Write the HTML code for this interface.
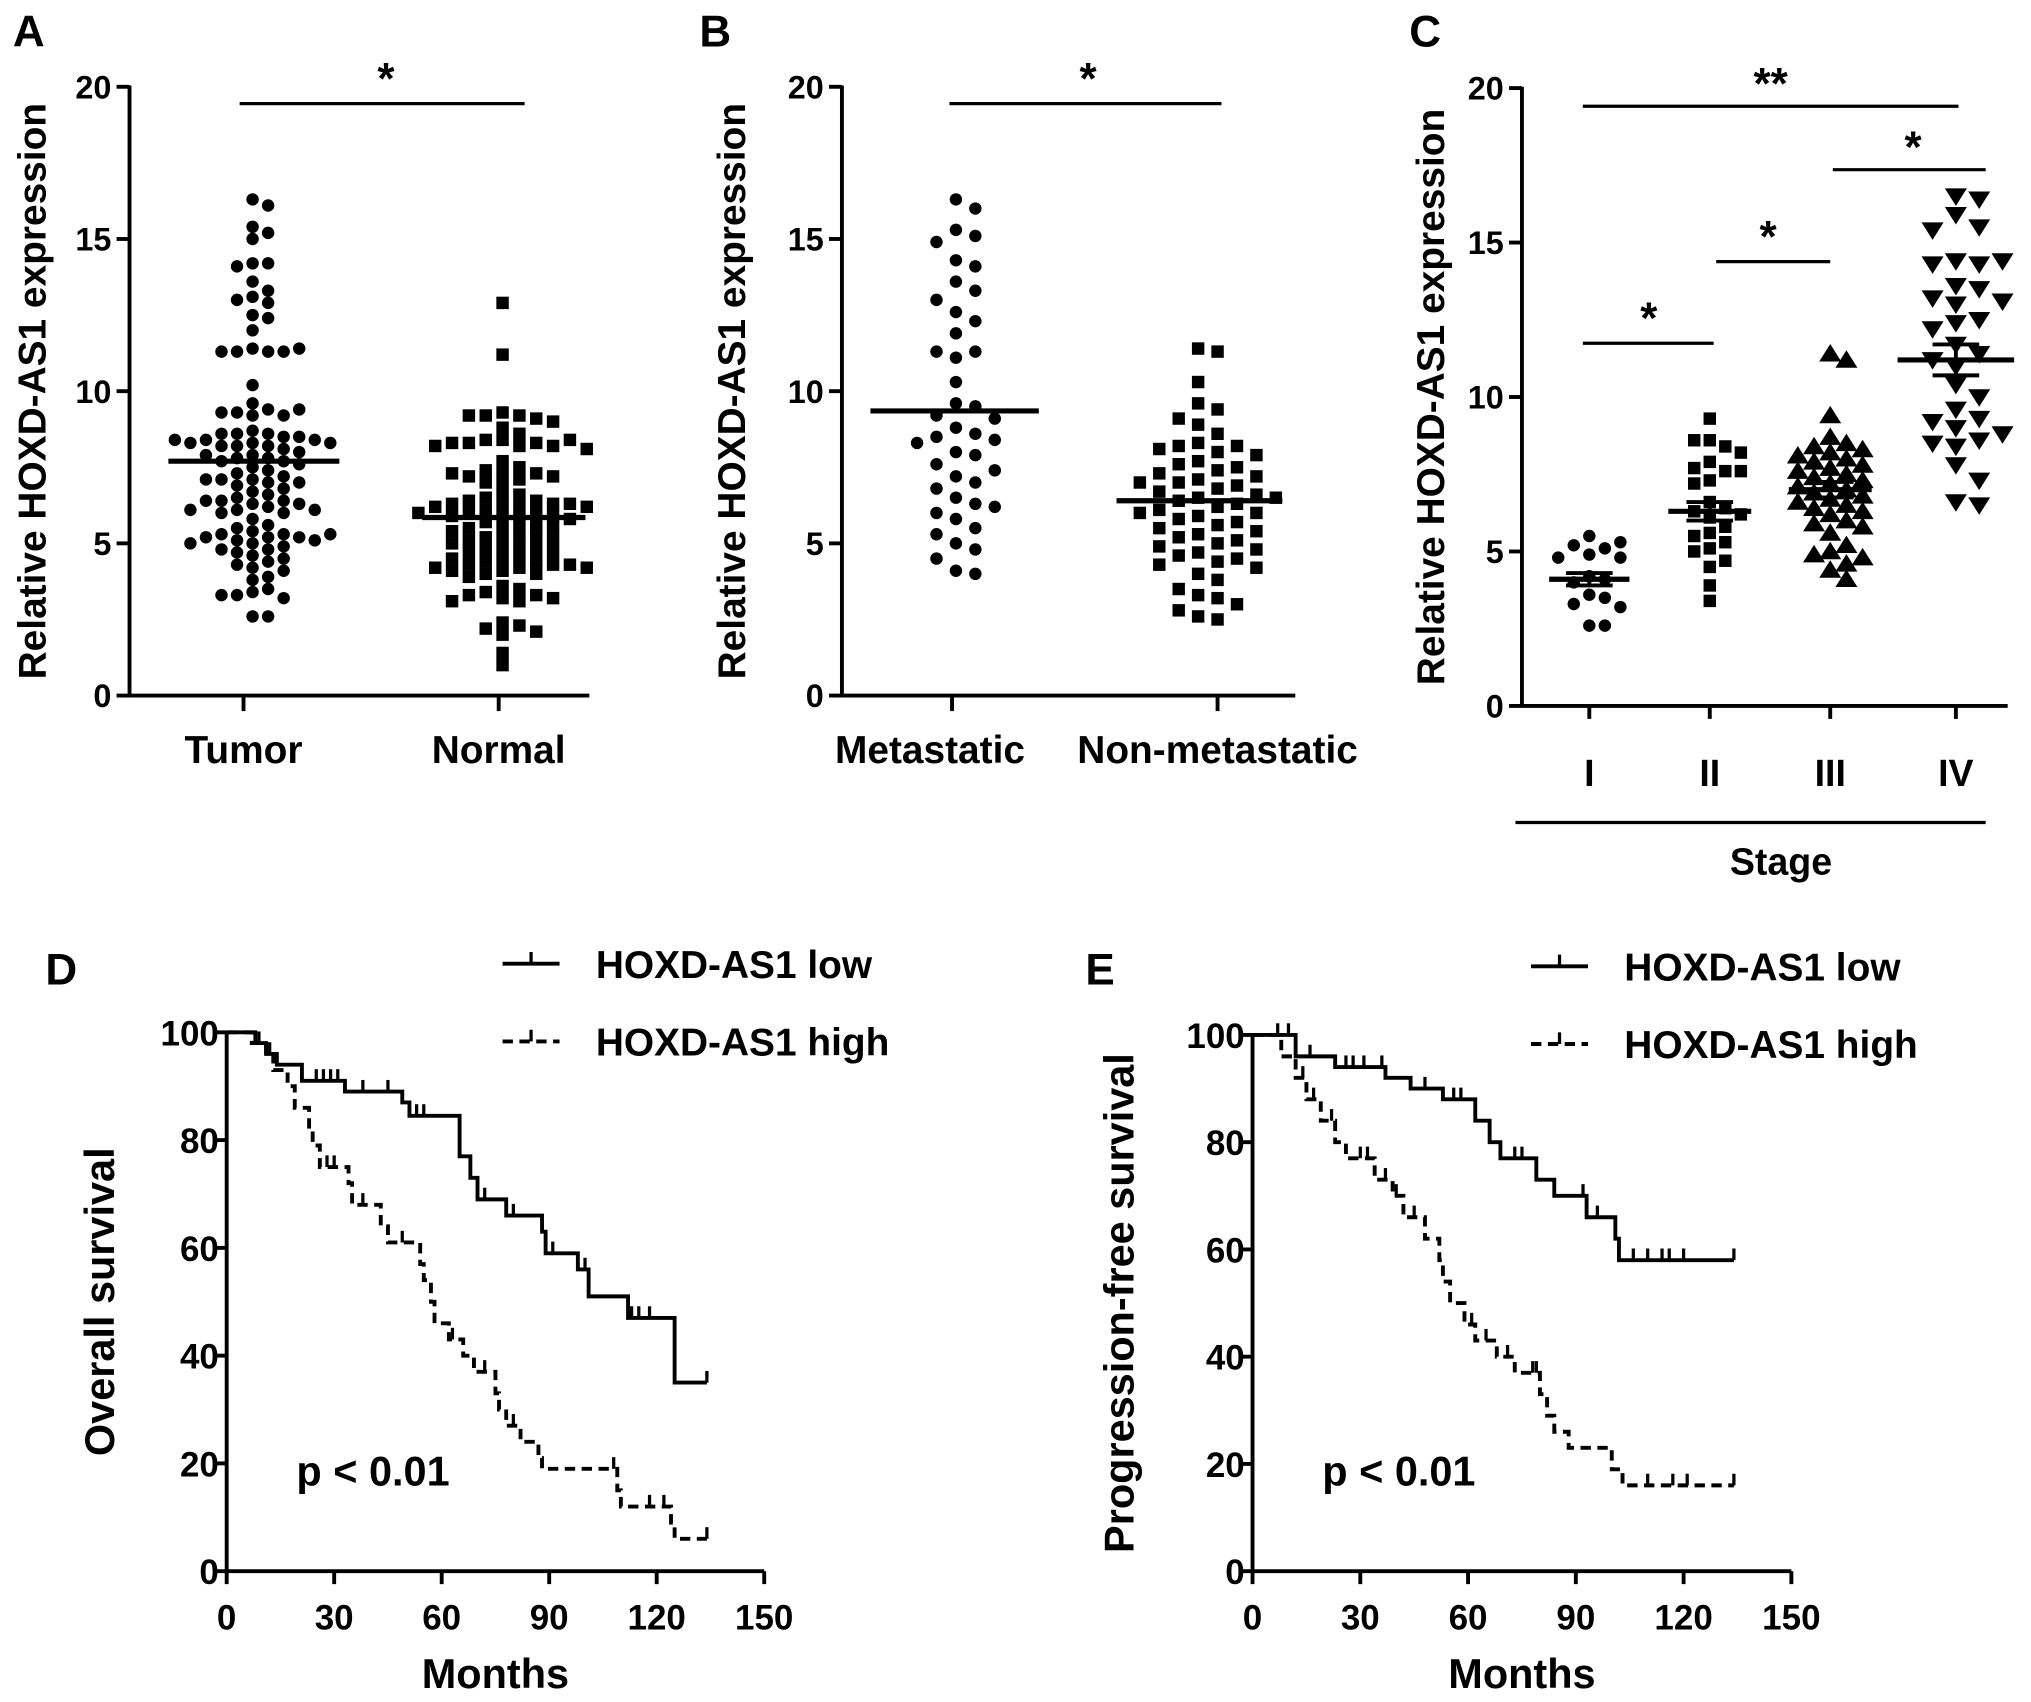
<!DOCTYPE html>
<html><head><meta charset="utf-8">
<style>
html,body{margin:0;padding:0;background:#fff;}
svg{display:block;}
text{font-family:"Liberation Sans",Arial,sans-serif;font-weight:bold;fill:#000;}
</style></head>
<body>
<svg id="fig" width="2031" height="1702" viewBox="0 0 1568 1314" preserveAspectRatio="none" xmlns="http://www.w3.org/2000/svg"></svg>
<script>
// ---------- DATA ----------
const tumorVals=[16.3,16.1,15.4,15.2,15.0,14.2,14.2,14.1,13.6,13.3,13.1,13.0,12.9,12.5,12.4,12.0,11.4,11.3,11.3,11.3,11.3,11.4,10.2,9.6,9.4,9.3,9.2,9.2,9.3,9.4,8.7,8.6,8.6,8.5,8.6,8.5,8.4,8.4,8.3,8.3,8.2,8.2,8.3,8.4,8.2,8.1,8.0,7.9,7.9,7.8,7.8,7.7,7.7,7.6,7.5,7.4,7.3,7.2,7.1,7.1,7.0,7.0,7.1,6.9,6.8,6.7,6.6,6.5,6.4,6.4,6.3,6.3,6.4,6.2,6.1,6.1,6.0,6.0,6.1,5.8,5.6,5.5,5.4,5.3,5.3,5.2,5.2,5.2,5.1,5.1,5.0,5.0,5.3,4.9,4.8,4.8,4.7,4.6,4.5,4.4,4.3,4.2,4.1,3.9,3.8,3.5,3.4,3.3,3.2,3.3,2.6,2.6];
const normalVals=[12.9,11.2,9.3,9.2,9.2,9.1,9.2,9.0,8.8,8.6,8.4,8.4,8.3,8.3,8.2,8.2,8.3,8.4,8.2,8.1,7.7,7.5,7.4,7.3,7.3,7.2,7.2,7.3,7.1,7.0,6.9,6.6,6.5,6.5,6.4,6.4,6.3,6.3,6.3,6.2,6.2,6.2,6.1,6.1,6.0,6.0,6.0,5.9,5.9,5.8,5.8,5.7,5.7,5.6,5.5,5.5,5.4,5.4,5.3,5.2,5.2,5.1,5.1,5.0,5.0,4.9,4.8,4.8,4.7,4.7,4.6,4.5,4.5,4.4,4.4,4.3,4.3,4.3,4.2,4.2,4.2,4.1,4.1,4.0,4.0,3.9,3.6,3.5,3.4,3.3,3.3,3.2,3.2,3.1,3.1,2.4,2.3,2.2,2.1,2.0,1.4,1.0];
const tumorMedian=7.7, normalMedian=5.85;
const metaVals=[16.3,16.0,15.3,15.1,14.9,14.3,14.1,13.6,13.3,13.0,12.6,12.3,11.9,11.3,11.1,11.3,10.3,9.6,9.5,9.2,9.1,8.8,8.6,8.5,8.4,8.3,8.0,7.9,7.6,7.4,7.2,7.0,6.8,6.5,6.3,6.2,6.0,5.8,5.5,5.3,5.0,4.8,4.5,4.1,4.0];
const nonMetaVals=[11.4,11.3,10.3,9.6,9.4,9.1,8.9,8.6,8.3,8.2,8.2,8.1,8.0,7.9,7.7,7.6,7.5,7.4,7.3,7.2,7.1,7.0,7.0,6.9,6.8,6.7,6.6,6.5,6.5,6.4,6.3,6.2,6.1,6.0,6.0,5.9,5.8,5.7,5.6,5.5,5.4,5.3,5.2,5.1,5.0,4.9,4.8,4.7,4.6,4.5,4.4,4.3,4.2,4.0,3.8,3.5,3.3,3.2,3.0,2.8,2.6,2.5];
const metaMedian=9.35, nonMetaMedian=6.4;
const stageLabels=["I","II","III","IV"];
const stage1=[5.5,5.1,5.2,5.3,4.9,4.8,4.8,4.2,4.1,4.0,3.6,3.5,3.3,3.2,2.6,2.6];
const stage2=[9.3,8.6,8.4,8.6,8.2,7.9,7.6,7.7,7.6,7.3,7.2,6.6,6.4,6.3,6.2,6.1,5.8,5.6,5.5,5.3,5.1,5.0,4.7,4.5,3.9,3.4];
const stage3=[11.4,11.2,9.4,8.7,8.5,8.4,8.3,8.2,8.1,8.0,7.9,7.8,7.7,7.6,7.5,7.4,7.3,7.2,7.1,7.0,6.9,6.8,6.7,6.6,6.5,6.4,6.3,6.2,6.0,5.9,5.8,5.6,5.2,5.0,4.9,4.8,4.6,4.4,4.1];
const stage4=[16.5,16.4,15.9,15.5,15.4,14.4,14.3,14.3,14.4,13.6,13.5,13.2,13.1,13.0,12.5,12.4,12.2,11.7,11.4,11.2,11.0,10.4,10.0,9.6,9.3,9.2,9.0,8.8,8.6,8.5,8.4,7.8,7.3,6.6,6.5];
const stageMeans=[4.1,6.3,7.0,11.2];
const stageSem=[0.2,0.3,0.25,0.5];
const yTicks=[0,5,10,15,20];
const survXTicks=[0,30,60,90,120,150];
const survYTicks=[0,20,40,60,80,100];
const dLowT=[0,8,11,14,21,33,49,51,65,68,70,78,88,89,98,101,112,125,134];
const dLowS=[100,98,96,94,91,89,87,84.5,77,73,69,66,63,59,56,51,47,35,35];
const dLowCens=[9,25,27,29,31,38,45,53,55,72,80,91,100,113,115,118,134];
const dHighT=[0,7,11,13,17,19,23,24,26,34,35,43,45,54,55,57,58,62,66,69,75,76,78,82,87,88,109,110,124,125,134];
const dHighS=[100,98,96,93,90,86,82,79,75,72,68,64,61,57,54,50,46,43,40,37,33,30,27,24,21,19,15,12,9,6,6];
const dHighCens=[8,12,28,30,38,49,63,72,80,108,118,122,134];
const eLowT=[0,12,23,37,44,53,62,66,69,79,84,93,101,102,134];
const eLowS=[100,96,94,92,90,88,84,80,77,73,70,66,62,58,58];
const eLowCens=[7,10,16,26,28,31,36,48,56,58,66,73,75,92,96,106,110,114,116,120,134];
const eHighT=[0,8,12,15,19,23,26,34,39,42,48,52,53,55,59,62,68,73,80,82,84,88,100,103,134];
const eHighS=[100,96,92,88,84,80,77,73,70,66,62,58,54,50,46,43,40,37,33,29,26,23,19,16,16];
const eHighCens=[14,17,22,30,32,37,40,45,61,65,71,78,79,110,117,121,134];

// ---------- HELPERS ----------
const NS="http://www.w3.org/2000/svg";
const svg=document.getElementById('fig');
function el(tag,attrs,parent){const e=document.createElementNS(NS,tag);for(const k in attrs)e.setAttribute(k,attrs[k]);(parent||svg).appendChild(e);return e;}
function txt(s,x,y,size,anchor,parent,rot){const t=el('text',{x:x,y:y,'font-size':size,'text-anchor':anchor||'middle'},parent);if(rot)t.setAttribute('transform','rotate(-90 '+x+' '+y+')');t.textContent=s;return t;}
function lin(x1,y1,x2,y2,w,parent,dash){const a={x1:x1,y1:y1,x2:x2,y2:y2,stroke:'#000','stroke-width':w||2.5};if(dash)a['stroke-dasharray']=dash;return el('line',a,parent);}

function marker(shape,x,y,parent){
  let m;
  if(shape==='circle')m=el('circle',{cx:x,cy:y,r:4.8,fill:'#000'},parent);
  else if(shape==='square')m=el('rect',{x:x-4.8,y:y-4.8,width:9.6,height:9.6,fill:'#000'},parent);
  else if(shape==='tri')m=el('polygon',{points:(x-8.5)+','+(y+6)+' '+(x+8.5)+','+(y+6)+' '+x+','+(y-7.5),fill:'#000'},parent);
  else m=el('polygon',{points:(x-8.5)+','+(y-6)+' '+(x+8.5)+','+(y-6)+' '+x+','+(y+7.5),fill:'#000'},parent);
  return m;
}
function swarm(vals,cx,yf,shape,step,thr,parent,name){
  const placed=[];
  vals.forEach(v=>{
    const py=yf(v);let k=0,slot=0;
    while(true){slot=(k===0)?0:((k%2)?(k+1)/2:-k/2);
      if(!placed.some(p=>p.s===slot&&Math.abs(p.y-py)<thr))break;k++;}
    placed.push({s:slot,y:py});
    const m=marker(shape,cx+slot*step,py,parent);
    
    
  });
}
function scatterPanel(o){
  const g=el('g',{});
  
  
  const yf=v=>o.y0+(o.y20-o.y0)*v/20;
  lin(o.x0,o.y20-1,o.x0,o.y0,3,g);
  lin(o.x0,o.y0,o.xEnd,o.y0,3,g);
  yTicks.forEach(t=>{lin(o.x0-10,yf(t),o.x0,yf(t),3,g);const l=txt(String(t),o.x0-14,yf(t)+9,25,'end',g);});
  const yl=txt('Relative HOXD-AS1 expression',o.ylx,(o.y0+o.y20)/2,30,'middle',g,true);
  
  return {g,yf};
}
// ---------- PANEL A ----------
(function(){
  const o={name:'panel-a',x0:100,xEnd:455,y0:537,y20:67,ylx:35};
  const {g,yf}=scatterPanel(o);
  const cats=['Tumor','Normal'],xs=[188,385];
  cats.forEach((c,i)=>{lin(xs[i],o.y0,xs[i],o.y0+12,3,g);const t=txt(c,xs[i],589,30,'middle',g);});
  swarm(tumorVals,195,yf,'circle',12,9,g,'tumor-point');
  swarm(normalVals,388,yf,'square',13,9,g,'normal-point');
  lin(130,yf(tumorMedian),262,yf(tumorMedian),4,g);
  lin(326,yf(normalMedian),452,yf(normalMedian),4,g);
  lin(185,80,405,80,2.5,g);
  txt('*',298,72,34,'middle',g);
  const L=txt('A',10,36,34,'start');
})();
// ---------- PANEL B ----------
(function(){
  const o={name:'panel-b',x0:650,xEnd:1000,y0:537,y20:67,ylx:575};
  const {g,yf}=scatterPanel(o);
  const cats=['Metastatic','Non-metastatic'],xs=[735,940];
  cats.forEach((c,i)=>{lin(xs[i],o.y0,xs[i],o.y0+12,3,g);const t=txt(c,(i?940:718),589,30,'middle',g);});
  swarm(metaVals,738,yf,'circle',15,16,g,'metastatic-point');
  swarm(nonMetaVals,925,yf,'square',15,13,g,'non-metastatic-point');
  lin(672,yf(metaMedian),802,yf(metaMedian),4,g);
  lin(862,yf(nonMetaMedian),990,yf(nonMetaMedian),4,g);
  lin(733,80,943,80,2.5,g);
  txt('*',840,72,34,'middle',g);
  const L=txt('B',540,36,34,'start');
})();
// ---------- PANEL C ----------
(function(){
  const o={name:'panel-c',x0:1175,xEnd:1550,y0:545,y20:68,ylx:1115};
  const {g,yf}=scatterPanel(o);
  const xs=[1227,1320,1413,1510];
  stageLabels.forEach((c,i)=>{lin(xs[i],o.y0,xs[i],o.y0+10,3,g);const t=txt(c,xs[i],607,29,'middle',g);});
  const groups=[stage1,stage2,stage3,stage4],shapes=['circle','square','tri','tridown'],steps=[12,12,12.5,18],thr=[10,10,10,14];
  groups.forEach((v,i)=>swarm(v,xs[i],yf,shapes[i],steps[i],thr[i],g,'stage-'+stageLabels[i]+'-point'));
  const half=[31,32,32,45];
  stageMeans.forEach((m,i)=>{
    lin(xs[i]-half[i],yf(m),xs[i]+half[i],yf(m),4,g);
    lin(xs[i],yf(m-stageSem[i]),xs[i],yf(m+stageSem[i]),3,g);
    lin(xs[i]-18,yf(m-stageSem[i]),xs[i]+18,yf(m-stageSem[i]),3,g);
    lin(xs[i]-18,yf(m+stageSem[i]),xs[i]+18,yf(m+stageSem[i]),3,g);
  });
  lin(1222,82,1512,82,2.5,g);txt('**',1367,76,34,'middle',g);
  lin(1415,131,1533,131,2.5,g);txt('*',1477,125,34,'middle',g);
  lin(1325,202,1413,202,2.5,g);txt('*',1365,194,34,'middle',g);
  lin(1222,265,1323,265,2.5,g);txt('*',1273,257,34,'middle',g);
  lin(1170,635,1533,635,2.5,g);
  const s=txt('Stage',1375,675,29,'middle',g);
  const L=txt('C',1088,36,34,'start');
})();
// ---------- SURVIVAL PANELS ----------
function survPanel(o){
  const g=el('g',{});
  
  
  const xf=t=>o.x0+(o.x150-o.x0)*t/150, yf=s=>o.y0+(o.y100-o.y0)*s/100;
  lin(o.x0,o.y100,o.x0,o.y0,3,g);lin(o.x0,o.y0,o.x150,o.y0,3,g);
  survYTicks.forEach(t=>{lin(o.x0-8,yf(t),o.x0,yf(t),3,g);const l=txt(String(t),o.x0-6,yf(t)+10,27,'end',g);});
  survXTicks.forEach(t=>{lin(xf(t),o.y0,xf(t),o.y0+10,3,g);const l=txt(String(t),xf(t),o.y0+45,27,'middle',g);});
  const xt=txt('Months',xf(75),o.y0+90,32,'middle',g);
  const yt=txt(o.ytitle,o.ylx,(o.y0+o.y100)/2,32,'middle',g,true);
  function curve(T,S,C,dash,name){
    let d='M'+xf(T[0])+','+yf(S[0]);
    for(let i=1;i<T.length;i++){d+=' H'+xf(T[i])+' V'+yf(S[i]);}
    const p=el('path',{d:d,fill:'none',stroke:'#000','stroke-width':3},g);
    if(dash)p.setAttribute('stroke-dasharray',dash);
    
    
    C.forEach(c=>{let s=S[0];for(let i=0;i<T.length;i++){if(T[i]<=c)s=S[i];}
      const m=lin(xf(c),yf(s),xf(c),yf(s)-9,2.5,g);
      
      });
  }
  curve(o.lowT,o.lowS,o.lowC,null,'low-expression-curve');
  curve(o.highT,o.highS,o.highC,'8,5','high-expression-curve');
  const pv=txt('p < 0.01',o.x0+113,o.y0-66,32,'middle',g);
  const lg=el('g',{},g);
  
  
  lin(o.legX,o.legY,o.legX+44,o.legY,3,lg);lin(o.legX+22,o.legY,o.legX+22,o.legY-9,2.5,lg);
  const l1=txt('HOXD-AS1 low',o.legX+72,o.legY+11,30,'start',lg);
  lin(o.legX,o.legY+60,o.legX+44,o.legY+60,3,lg,'8,5');lin(o.legX+22,o.legY+60,o.legX+22,o.legY+51,2.5,lg);
  const l2=txt('HOXD-AS1 high',o.legX+72,o.legY+71,30,'start',lg);
}
survPanel({name:'panel-d',x0:175,x150:590,y0:1213,y100:797,ylx:88,ytitle:'Overall survival',legX:388,legY:744,
  lowT:dLowT,lowS:dLowS,lowC:dLowCens,highT:dHighT,highS:dHighS,highC:dHighCens});
survPanel({name:'panel-e',x0:967,x150:1383,y0:1213,y100:799,ylx:875,ytitle:'Progression-free survival',legX:1182,legY:746,
  lowT:eLowT,lowS:eLowS,lowC:eLowCens,highT:eHighT,highS:eHighS,highC:eHighCens});
(function(){const L=txt('D',35,760,34,'start');
const M=txt('E',838,760,34,'start');})();
</script>
</body></html>
